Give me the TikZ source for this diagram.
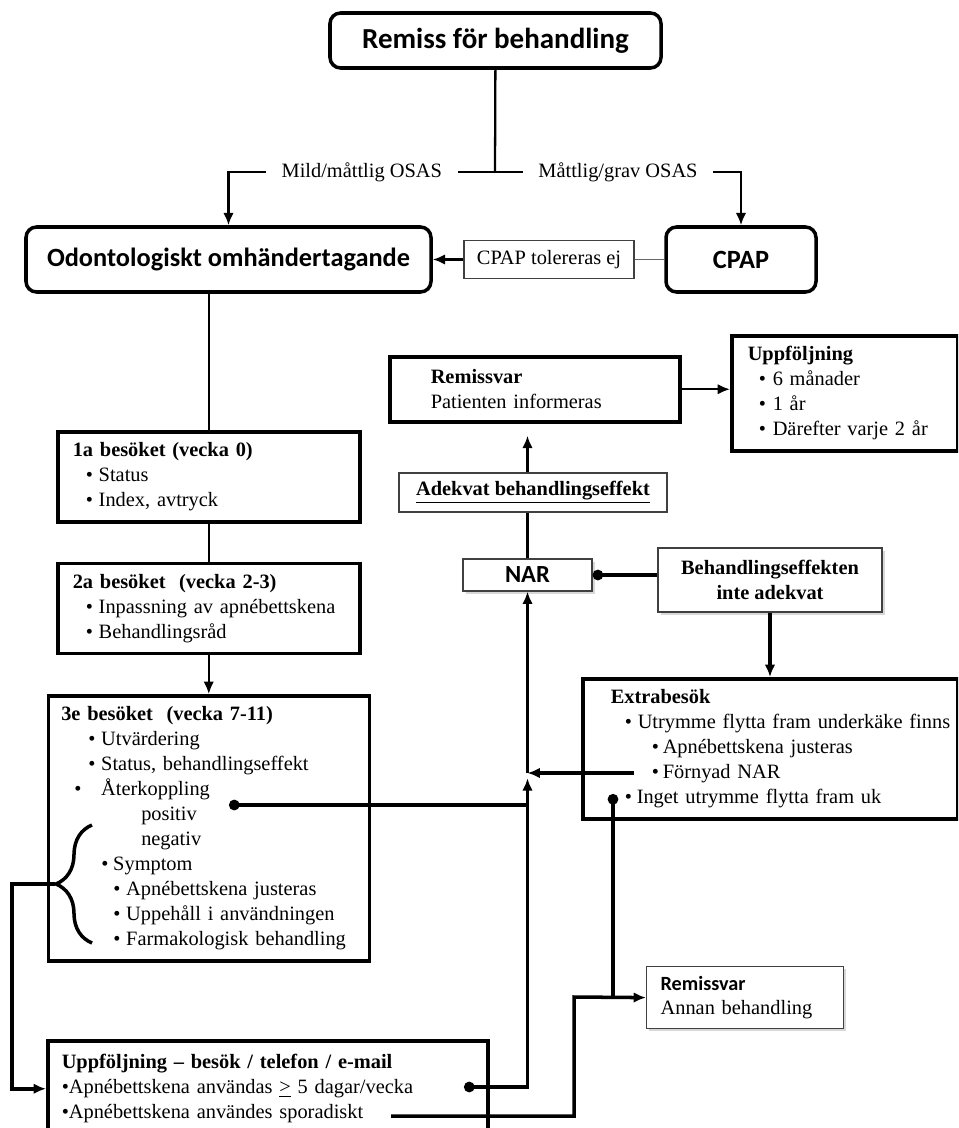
\documentclass[tikz,border=0pt]{standalone}
\usepackage{fontspec}
\setmainfont{Liberation Serif}
\newfontfamily\calibri{Carlito}
\usetikzlibrary{arrows.meta,positioning,decorations.pathreplacing,shadows}

\newlength\pxu
\setlength\pxu{0.02cm}
\newcommand{\bul}[3][13]{\mbox{\hspace*{#2\pxu}\makebox[#1\pxu][l]{•}#3}}

\begin{document}
\begin{tikzpicture}[
    x=0.02cm, y=-0.02cm,
    base/.style={font=\fontsize{11.6}{14.2}\selectfont},
    head/.style={rectangle, rounded corners=6pt, draw, line width=2pt, inner sep=0pt},
    card/.style={rectangle, draw, line width=2pt, align=left, inner sep=0pt, base},
    plain/.style={rectangle, draw=black!75, line width=0.7pt, align=center, inner sep=0pt, base},
    shade/.style={drop shadow={shadow xshift=1.5pt, shadow yshift=-1.5pt, opacity=0.3}},
    lbl/.style={fill=white, inner xsep=9pt, inner ysep=2pt, base},
    arrow/.style={-{Latex[length=7pt,width=6pt]}, line width=1.3pt},
    link/.style={line width=2pt},
    dot/.style={{Circle[length=6pt]}-},
  ]
    \useasboundingbox (0,0) rectangle (958,1128);
    \clip (0,0) rectangle (958,1128);
    \fill[white] (0,0) rectangle (958,1128);

    % top of the chart
    \node[head, minimum width=331\pxu, minimum height=55\pxu, font=\calibri\bfseries\fontsize{16.5}{20}\selectfont] (remiss) at (495.5,40.5) {Remiss för behandling};
    \node[head, minimum width=405\pxu, minimum height=65\pxu, font=\calibri\bfseries\fontsize{15}{18}\selectfont] (odont) at (228.5,259.5) {Odontologiskt omhändertagande};
    \node[head, minimum width=150\pxu, minimum height=65\pxu, font=\calibri\bfseries\fontsize{15}{18}\selectfont] (cpap) at (741,259.5) {CPAP};
    \node[plain, minimum width=170\pxu, minimum height=38\pxu] (tol) at (549,259.5) {CPAP tolereras ej};

    % visits
    \node[card, anchor=north west, minimum width=302\pxu, minimum height=90\pxu, text width=272\pxu] (v1) at (56,430)
      {\textbf{1a besöket (vecka 0)}\\
       \bul{13}{Status}\\
       \bul{13}{Index, avtryck}};
    \node[card, below=38\pxu of v1, minimum width=302\pxu, minimum height=90\pxu, text width=272\pxu] (v2)
      {\textbf{2a besöket\ \ (vecka 2-3)}\\
       \bul{13}{Inpassning av apnébettskena}\\
       \bul{13}{Behandlingsråd}};
    \node[card, below=39\pxu of v2, minimum width=321\pxu, minimum height=265\pxu, text width=295\pxu] (v3)
      {\textbf{3e besöket\ \ (vecka 7-11)}\\
       \bul{27}{Utvärdering}\\
       \bul{27}{Status, behandlingseffekt}\\
       \bul[27]{13}{Återkoppling}\\
       \hspace*{80\pxu}positiv\\
       \hspace*{80\pxu}negativ\\
       \bul[12]{40}{Symptom}\\
       \bul{52}{Apnébettskena justeras}\\
       \bul{52}{Uppehåll i användningen}\\
       \bul{52}{Farmakologisk behandling}};
    \node[card, anchor=north west, minimum width=440\pxu, minimum height=96\pxu, text width=412\pxu] (follow) at (46,1039)
      {\textbf{Uppföljning – besök / telefon / e-mail}\\
       \mbox{•Apnébettskena användas \underline{>} 5 dagar/vecka}\\
       \mbox{•Apnébettskena användes sporadiskt}};

    % right side
    \node[card, anchor=north west, minimum width=290\pxu, minimum height=65\pxu, text width=208\pxu] (svar) at (388,355)
      {\textbf{Remissvar}\\
       \mbox{Patienten informeras}};
    \node[card, anchor=north west, minimum width=226\pxu, minimum height=115\pxu, text width=194\pxu] (later) at (730,334)
      {\textbf{Uppföljning}\\
       \bul[14]{11}{6 månader}\\
       \bul[14]{11}{1 år}\\
       \bul[14]{11}{Därefter varje 2 år}};
    \node[plain, minimum width=268\pxu, minimum height=39\pxu] (adekvat) at (533,492.5) {\underline{\textbf{Adekvat behandlingseffekt}}};
    \node[plain, shade, fill=white, minimum width=129\pxu, minimum height=32\pxu, font=\calibri\bfseries\fontsize{14}{17}\selectfont] (nar) at (527.5,575) {NAR};
    \node[plain, shade, fill=white, minimum width=224\pxu, minimum height=64\pxu] (effekt) at (770,580)
      {\textbf{Behandlingseffekten}\\ \textbf{inte adekvat}};
    \node[card, anchor=north west, minimum width=375\pxu, minimum height=140\pxu, text width=319\pxu] (extra) at (581,677)
      {\textbf{Extrabesök}\\
       \bul{14}{Utrymme flytta fram underkäke finns}\\
       \bul[11]{41}{Apnébettskena justeras}\\
       \bul[11]{41}{Förnyad NAR}\\
       \bul[12]{14}{Inget utrymme flytta fram uk}};
    \node[plain, shade, fill=white, anchor=north west, align=left, minimum width=197\pxu, minimum height=62\pxu, text width=169\pxu] (annan) at (646,966)
      {{\calibri\bfseries\fontsize{11.5}{14.2}\selectfont Remissvar}\\
       Annan behandling};

    % points where the lines start or bend
    \coordinate (split) at (495,172);
    \coordinate (brace) at (55,884);
    \coordinate (bend) at (12,884);
    \coordinate (positiv) at (229,805);
    \coordinate (weekly) at (464,1087);
    \coordinate (fornyad) at (634,773);
    \coordinate (merge) at (nar.south |- fornyad);
    \coordinate (inget) at (613,794);
    \coordinate (sporadic) at (391,1116);
    \coordinate (kink) at (574,997);

    \draw[line width=1.3pt] (remiss) -- (split);
    \draw[arrow] (split) -| node[lbl, pos=0.25] {Mild/måttlig OSAS} (odont);
    \draw[arrow] (split) -| node[lbl, pos=0.25] {Måttlig/grav OSAS} (cpap);
    \draw[black!60, line width=0.9pt] (cpap) -- (tol);
    \draw[arrow] (tol) -- (odont);

    \draw[line width=1.3pt] (odont.south -| v1.north) -- (v1.north);
    \draw[line width=1.3pt] (v1) -- (v2);
    \draw[arrow] (v2) -- (v3);

    \draw[link, decorate, decoration={brace, amplitude=36\pxu}] (92,943) -- (92,825);
    \draw[arrow, link] (brace) -- (bend) |- (follow.west);

    \draw[link, dot] (positiv) -- (positiv -| nar.south);
    \draw[link, {Circle[length=6pt]}-{Latex[length=7pt,width=6pt]}, shorten >=3pt] (weekly) -| (merge);
    \draw[link, dot, -{Latex[length=7pt,width=6pt]}] (fornyad) -- (merge);
    \draw[link, -{Latex[length=7pt,width=6pt]}] (merge) -- (nar.south);

    \draw[link, -{Circle[length=6pt]}] (effekt.west |- nar.east) -- (nar.east);
    \draw[link, -{Latex[length=7pt,width=6pt]}] (effekt.south) -- (effekt.south |- extra.north);

    \draw[line width=1.3pt] (nar) -- (nar |- adekvat.south);
    \draw[arrow, shorten >=7pt] (nar |- adekvat.north) -- (nar |- svar.south);
    \draw[arrow] (svar.east) -- (svar.east -| later.west);

    \draw[link, dot] (inget) -- (inget |- annan.west);
    \draw[link, dot, -{Latex[length=7pt,width=6pt]}] (sporadic) -| (kink) -- (annan.west);
  \end{tikzpicture}
\end{document}
